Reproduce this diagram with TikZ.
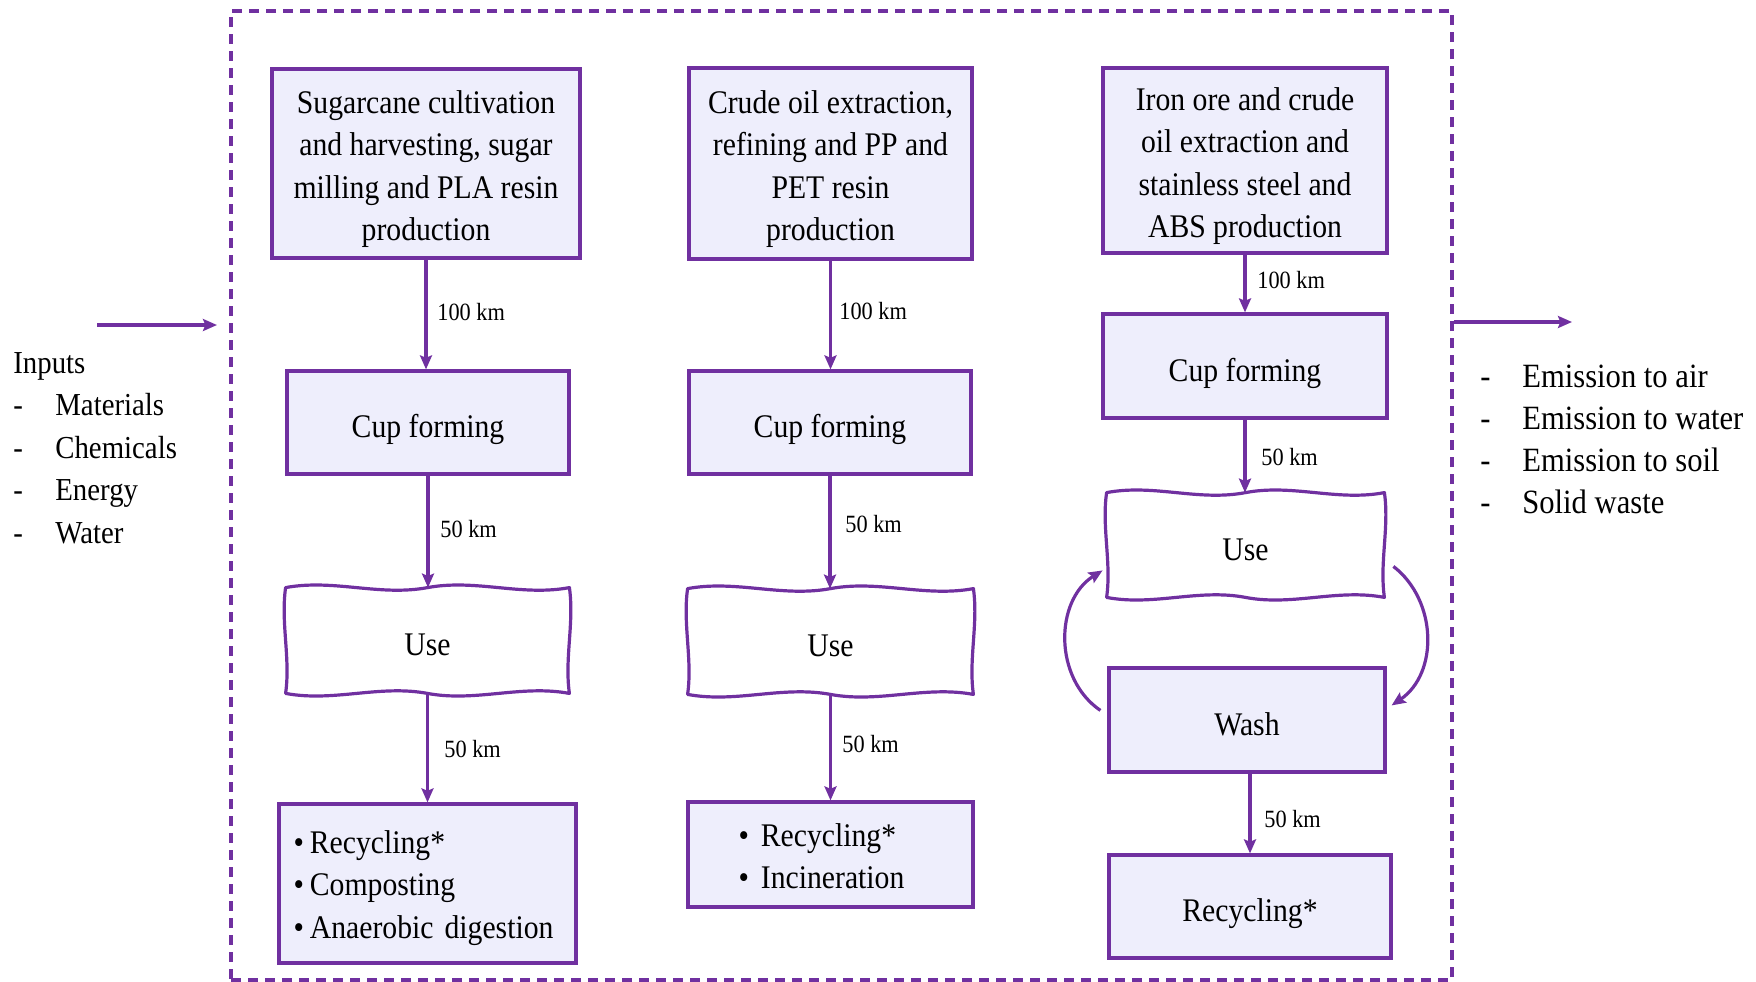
\documentclass[tikz,border=0pt]{standalone}
\usepackage{fontspec}
\setmainfont{Liberation Serif}[FakeStretch=0.9]
\usetikzlibrary{arrows.meta,calc}
\definecolor{pur}{HTML}{7030A0}
\definecolor{lav}{HTML}{EEEEFC}
\newcommand\wavyuse[1]{%
  \draw[pur,line width=1.6pt,line join=round] (#1.north west)
   .. controls ($(#1.north west)!0.17!(#1.north east)+(0,-9)$) and ($(#1.north west)!0.33!(#1.north east)+(0,9)$) .. ($(#1.north west)!0.5!(#1.north east)$)
   .. controls ($(#1.north west)!0.67!(#1.north east)+(0,-9)$) and ($(#1.north west)!0.83!(#1.north east)+(0,9)$) .. (#1.north east)
   .. controls ($(#1.north east)!0.33!(#1.south east)+(5,0)$) and ($(#1.north east)!0.67!(#1.south east)+(-5,0)$) .. (#1.south east)
   .. controls ($(#1.south east)!0.17!(#1.south west)+(0,-9)$) and ($(#1.south east)!0.33!(#1.south west)+(0,9)$) .. ($(#1.south east)!0.5!(#1.south west)$)
   .. controls ($(#1.south east)!0.67!(#1.south west)+(0,-9)$) and ($(#1.south east)!0.83!(#1.south west)+(0,9)$) .. (#1.south west)
   .. controls ($(#1.south west)!0.33!(#1.north west)+(5,0)$) and ($(#1.south west)!0.67!(#1.north west)+(-5,0)$) .. (#1.north west) -- cycle;}
\newcommand\topstrut[1]{\rule{0pt}{#1}}
\begin{document}
\begin{tikzpicture}[x=0.5pt,y=-0.5pt,
  box/.style={draw=pur,fill=lav,line width=1.6pt,inner sep=0pt,align=center,
    font=\fontsize{16.5}{21.25}\selectfont},
  one/.style={text height=15pt,text depth=0pt},
  usenode/.style={inner sep=0pt,align=center,font=\fontsize{16.5}{21.25}\selectfont,text height=15pt,text depth=0pt},
  arr/.style={pur,line width=1.6pt,-{Stealth[length=7pt,width=6pt,inset=1.2pt]}},
  lbl/.style={font=\fontsize{12.4}{14}\selectfont,anchor=west,inner sep=0pt},
  frame/.style={draw=pur,line width=1.6pt,dash pattern=on 5pt off 3.5pt,inner sep=0pt}]
\useasboundingbox (0,0) rectangle (1756,981);
\node[frame,minimum width=610.5pt,minimum height=484.5pt] (fr) at (841.5,495.5) {};

% column 1
\node[box,minimum width=154pt,minimum height=94.5pt] (a1) at (426,163.5)
  {\topstrut{17pt}Sugarcane cultivation\\and harvesting, sugar\\milling and PLA resin\\production};
\node[box,one,minimum width=141pt,minimum height=51.5pt] (a2) at (428,422.5) {Cup forming};
\node[usenode,minimum width=141.5pt,minimum height=52.5pt] (a3) at (427.5,640.5) {Use};
\wavyuse{a3}
\node[box,minimum width=148.5pt,minimum height=79.5pt,align=left,text width=134pt,inner xsep=7pt] (a4) at (427.5,883.5)
  {\topstrut{16pt}•\hspace{3pt}Recycling*\\•\hspace{3pt}Composting\\•\hspace{3pt}Anaerobic digestion};

% column 2
\node[box,minimum width=141.5pt,minimum height=95.5pt] (b1) at (830.5,163.5)
  {\topstrut{17pt}Crude oil extraction,\\refining and PP and\\PET resin\\production};
\node[box,one,minimum width=141pt,minimum height=51.5pt] (b2) at (830,422.5) {Cup forming};
\node[usenode,minimum width=142.5pt,minimum height=52.5pt] (b3) at (830.5,641.5) {Use};
\wavyuse{b3}
\node[box,minimum width=142.5pt,minimum height=52.5pt,align=left,text width=92pt,inner xsep=25pt] (b4) at (830.5,854.5)
  {\topstrut{13pt}•\hspace{6pt}Recycling*\\•\hspace{6pt}Incineration};

% column 3
\node[box,minimum width=142pt,minimum height=92.5pt] (c1) at (1245,160.5)
  {\topstrut{17pt}Iron ore and crude\\oil extraction and\\stainless steel and\\ABS production};
\node[box,one,minimum width=142pt,minimum height=52pt] (c2) at (1245,366) {Cup forming};
\node[usenode,minimum width=138.5pt,minimum height=52pt] (c3) at (1245.5,545) {Use};
\wavyuse{c3}
\node[box,one,minimum width=138pt,minimum height=52pt] (c4) at (1247,720) {Wash};
\node[box,one,minimum width=141pt,minimum height=51.5pt] (c5) at (1250,906.5) {Recycling*};

% arrows column 1
\draw[arr] (a1.south) -- (a1.south |- a2.north);
\draw[arr] (a2.south) -- (a2.south |- a3.north);
\draw[arr] (a3.south) -- (a3.south |- a4.north);
\node[lbl] (la1) at (437,312) {100 km};
\node[lbl] (la2) at (440,529) {50 km};
\node[lbl] (la3) at (444,749) {50 km};

% arrows column 2
\draw[arr] (b1.south) -- (b1.south |- b2.north);
\draw[arr] (b2.south) -- (b2.south |- b3.north);
\draw[arr] (b3.south) -- (b3.south |- b4.north);
\node[lbl] (lb1) at (839,311) {100 km};
\node[lbl] (lb2) at (845,524) {50 km};
\node[lbl] (lb3) at (842,744) {50 km};

% arrows column 3
\draw[arr] (c1.south) -- (c1.south |- c2.north);
\draw[arr] (c2.south) -- (c2.south |- c3.north);
\draw[arr] (c4.south -| c5.north) -- (c5.north);
\draw[arr] ($(c4.north west)+(-7,44)$) .. controls ($(c4.north west)+(-54,12)$) and ($(c3.south west)+(-52,3)$) .. ($(c3.south west)+(-4,-27)$);
\draw[arr] ($(c3.south east)+(9,-31)$) .. controls ($(c3.south east)+(53,3)$) and ($(c4.north east)+(52,7)$) .. ($(c4.north east)+(5,39)$);
\node[lbl] (lc1) at (1257,280) {100 km};
\node[lbl] (lc2) at (1261,457) {50 km};
\node[lbl] (lc3) at (1264,819) {50 km};

% inputs / outputs
\coordinate (inS) at (97,325);
\coordinate (inE) at (217,325);
\draw[arr] (inS) -- (inE);
\coordinate (outE) at (1572,322);
\draw[arr] (fr.east |- outE) -- (outE);
\node[anchor=base west,inner sep=0pt,align=left,font=\fontsize{16}{21.25}\selectfont] (inputs) at (13,543)
  {Inputs\\\makebox[21pt][l]{-}Materials\\\makebox[21pt][l]{-}Chemicals\\\makebox[21pt][l]{-}Energy\\\makebox[21pt][l]{-}Water};
\node[anchor=base west,inner sep=0pt,align=left,font=\fontsize{17}{20.9}\selectfont] (outputs) at (1480,513)
  {\makebox[21pt][l]{-}Emission to air\\\makebox[21pt][l]{-}Emission to water\\\makebox[21pt][l]{-}Emission to soil\\\makebox[21pt][l]{-}Solid waste};
\end{tikzpicture}
\end{document}
